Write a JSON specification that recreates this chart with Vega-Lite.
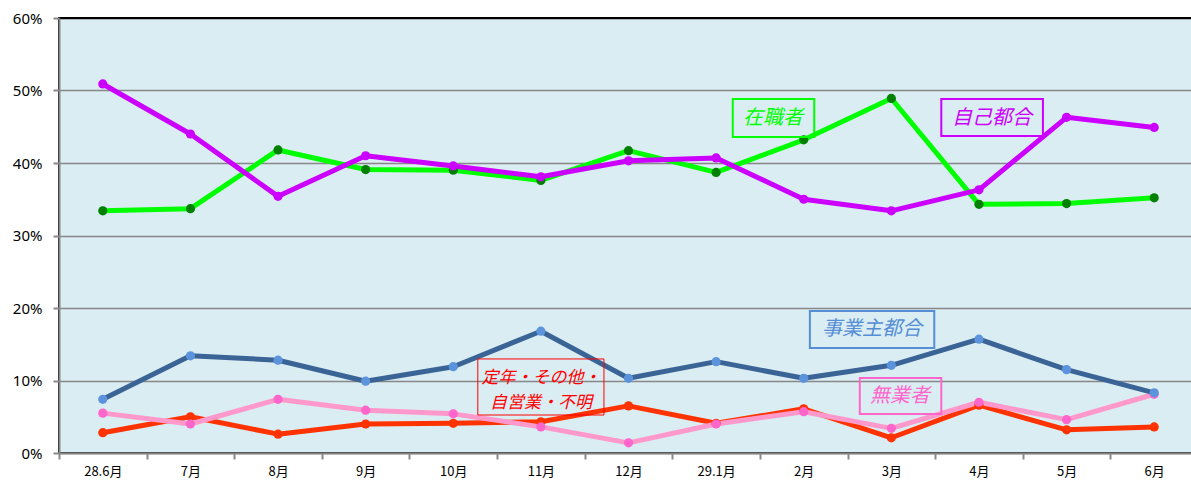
{
  "$schema": "https://vega.github.io/schema/vega-lite/v6.json",
  "width": 1139,
  "height": 435,
  "autosize": {"type": "none"},
  "padding": {"left": 59, "top": 18, "right": 0, "bottom": 28},
  "background": "#ffffff",
  "config": {
    "view": {"fill": "#DAEDF3", "stroke": "#000000", "strokeWidth": 2},
    "font": "Noto Sans CJK JP"
  },
  "datasets": {
    "rate": [
      {"i": 0, "month": "28.6月", "series": "定年・その他・自営業・不明", "value": 2.8},
      {"i": 1, "month": "7月", "series": "定年・その他・自営業・不明", "value": 5.0},
      {"i": 2, "month": "8月", "series": "定年・その他・自営業・不明", "value": 2.6},
      {"i": 3, "month": "9月", "series": "定年・その他・自営業・不明", "value": 4.0},
      {"i": 4, "month": "10月", "series": "定年・その他・自営業・不明", "value": 4.1},
      {"i": 5, "month": "11月", "series": "定年・その他・自営業・不明", "value": 4.3},
      {"i": 6, "month": "12月", "series": "定年・その他・自営業・不明", "value": 6.5},
      {"i": 7, "month": "29.1月", "series": "定年・その他・自営業・不明", "value": 4.1},
      {"i": 8, "month": "2月", "series": "定年・その他・自営業・不明", "value": 6.1},
      {"i": 9, "month": "3月", "series": "定年・その他・自営業・不明", "value": 2.1},
      {"i": 10, "month": "4月", "series": "定年・その他・自営業・不明", "value": 6.6},
      {"i": 11, "month": "5月", "series": "定年・その他・自営業・不明", "value": 3.2},
      {"i": 12, "month": "6月", "series": "定年・その他・自営業・不明", "value": 3.6},

      {"i": 0, "month": "28.6月", "series": "無業者", "value": 5.5},
      {"i": 1, "month": "7月", "series": "無業者", "value": 4.0},
      {"i": 2, "month": "8月", "series": "無業者", "value": 7.4},
      {"i": 3, "month": "9月", "series": "無業者", "value": 5.9},
      {"i": 4, "month": "10月", "series": "無業者", "value": 5.4},
      {"i": 5, "month": "11月", "series": "無業者", "value": 3.6},
      {"i": 6, "month": "12月", "series": "無業者", "value": 1.4},
      {"i": 7, "month": "29.1月", "series": "無業者", "value": 4.0},
      {"i": 8, "month": "2月", "series": "無業者", "value": 5.7},
      {"i": 9, "month": "3月", "series": "無業者", "value": 3.4},
      {"i": 10, "month": "4月", "series": "無業者", "value": 7.0},
      {"i": 11, "month": "5月", "series": "無業者", "value": 4.6},
      {"i": 12, "month": "6月", "series": "無業者", "value": 8.1},

      {"i": 0, "month": "28.6月", "series": "事業主都合", "value": 7.4},
      {"i": 1, "month": "7月", "series": "事業主都合", "value": 13.4},
      {"i": 2, "month": "8月", "series": "事業主都合", "value": 12.8},
      {"i": 3, "month": "9月", "series": "事業主都合", "value": 9.9},
      {"i": 4, "month": "10月", "series": "事業主都合", "value": 11.9},
      {"i": 5, "month": "11月", "series": "事業主都合", "value": 16.8},
      {"i": 6, "month": "12月", "series": "事業主都合", "value": 10.3},
      {"i": 7, "month": "29.1月", "series": "事業主都合", "value": 12.6},
      {"i": 8, "month": "2月", "series": "事業主都合", "value": 10.3},
      {"i": 9, "month": "3月", "series": "事業主都合", "value": 12.1},
      {"i": 10, "month": "4月", "series": "事業主都合", "value": 15.7},
      {"i": 11, "month": "5月", "series": "事業主都合", "value": 11.5},
      {"i": 12, "month": "6月", "series": "事業主都合", "value": 8.3},

      {"i": 0, "month": "28.6月", "series": "在職者", "value": 33.4},
      {"i": 1, "month": "7月", "series": "在職者", "value": 33.7},
      {"i": 2, "month": "8月", "series": "在職者", "value": 41.8},
      {"i": 3, "month": "9月", "series": "在職者", "value": 39.1},
      {"i": 4, "month": "10月", "series": "在職者", "value": 39.0},
      {"i": 5, "month": "11月", "series": "在職者", "value": 37.6},
      {"i": 6, "month": "12月", "series": "在職者", "value": 41.7},
      {"i": 7, "month": "29.1月", "series": "在職者", "value": 38.7},
      {"i": 8, "month": "2月", "series": "在職者", "value": 43.2},
      {"i": 9, "month": "3月", "series": "在職者", "value": 48.9},
      {"i": 10, "month": "4月", "series": "在職者", "value": 34.3},
      {"i": 11, "month": "5月", "series": "在職者", "value": 34.4},
      {"i": 12, "month": "6月", "series": "在職者", "value": 35.2},

      {"i": 0, "month": "28.6月", "series": "自己都合", "value": 50.9},
      {"i": 1, "month": "7月", "series": "自己都合", "value": 44.0},
      {"i": 2, "month": "8月", "series": "自己都合", "value": 35.4},
      {"i": 3, "month": "9月", "series": "自己都合", "value": 41.0},
      {"i": 4, "month": "10月", "series": "自己都合", "value": 39.6},
      {"i": 5, "month": "11月", "series": "自己都合", "value": 38.1},
      {"i": 6, "month": "12月", "series": "自己都合", "value": 40.3},
      {"i": 7, "month": "29.1月", "series": "自己都合", "value": 40.7},
      {"i": 8, "month": "2月", "series": "自己都合", "value": 35.0},
      {"i": 9, "month": "3月", "series": "自己都合", "value": 33.4},
      {"i": 10, "month": "4月", "series": "自己都合", "value": 36.3},
      {"i": 11, "month": "5月", "series": "自己都合", "value": 46.3},
      {"i": 12, "month": "6月", "series": "自己都合", "value": 44.9}
    ]
  },
  "layer": [
    {
      "data": {"name": "rate"},
      "mark": {"type": "line", "strokeWidth": 5, "strokeJoin": "round"},
      "encoding": {
        "x": {
          "field": "i", "type": "quantitative", "title": null,
          "scale": {"domain": [-0.5, 12.5], "nice": false, "zero": false},
          "axis": {
            "values": [-0.5, 0, 0.5, 1, 1.5, 2, 2.5, 3, 3.5, 4, 4.5, 5, 5.5, 6, 6.5, 7, 7.5, 8, 8.5, 9, 9.5, 10, 10.5, 11, 11.5, 12, 12.5],
            "labelExpr": "datum.value % 1 === 0 ? ['28.6月','7月','8月','9月','10月','11月','12月','29.1月','2月','3月','4月','5月','6月'][datum.value] : ''",
            "tickOpacity": {"condition": {"test": "datum.value % 1 !== 0", "value": 1}, "value": 0},
            "tickColor": "#888888", "tickSize": 6, "tickWidth": 2,
            "domainColor": "#888888", "domainWidth": 2,
            "grid": false,
            "labelFont": "Noto Sans CJK JP", "labelFontSize": 13, "labelColor": "#000000",
            "labelPadding": 6, "labelFlush": false, "labelOverlap": false, "title": null
          }
        },
        "y": {
          "field": "value", "type": "quantitative", "title": null,
          "scale": {"domain": [0, 60], "nice": false},
          "axis": {
            "values": [0, 10, 20, 30, 40, 50, 60],
            "labelExpr": "datum.value + '%'",
            "grid": true,
            "gridColor": {"condition": {"test": "datum.value === 60", "value": "#000000"}, "value": "#888888"},
            "gridWidth": 1.5,
            "tickColor": "#888888", "tickSize": 6, "tickWidth": 2,
            "domainColor": "#888888", "domainWidth": 2,
            "labelFont": "Noto Sans", "labelFontSize": 15, "labelColor": "#000000",
            "labelPadding": 11, "title": null
          }
        },
        "stroke": {
          "field": "series", "type": "nominal", "legend": null,
          "scale": {
            "domain": ["定年・その他・自営業・不明", "無業者", "事業主都合", "在職者", "自己都合"],
            "range": ["#FF3300", "#FF99CC", "#3B6496", "#00FF00", "#CC00FF"]
          }
        }
      }
    },
    {
      "data": {"name": "rate"},
      "mark": {"type": "point", "filled": true, "size": 85, "opacity": 1},
      "encoding": {
        "x": {"field": "i", "type": "quantitative", "title": null},
        "y": {"field": "value", "type": "quantitative", "title": null},
        "fill": {
          "field": "series", "type": "nominal", "legend": null,
          "scale": {
            "domain": ["定年・その他・自営業・不明", "無業者", "事業主都合", "在職者", "自己都合"],
            "range": ["#FF3300", "#FF66CC", "#5B94DC", "#008000", "#CC00FF"]
          }
        }
      }
    },
    {
      "data": {"values": [{}]},
      "mark": {"type": "rect", "filled": false, "stroke": "#00FF00", "strokeWidth": 2},
      "encoding": {
        "x": {"datum": 7.19, "title": null}, "x2": {"datum": 8.12},
        "y": {"datum": 48.83, "title": null}, "y2": {"datum": 43.59}
      }
    },
    {
      "data": {"values": [{}]},
      "mark": {"type": "text", "text": "在職者", "font": "Noto Sans CJK JP", "fontSize": 20, "fontStyle": "italic", "color": "#00FF00"},
      "encoding": {"x": {"datum": 7.65, "title": null}, "y": {"datum": 46.2, "title": null}}
    },
    {
      "data": {"values": [{}]},
      "mark": {"type": "rect", "filled": false, "stroke": "#CC00FF", "strokeWidth": 2},
      "encoding": {
        "x": {"datum": 9.57, "title": null}, "x2": {"datum": 10.73},
        "y": {"datum": 48.83, "title": null}, "y2": {"datum": 43.72}
      }
    },
    {
      "data": {"values": [{}]},
      "mark": {"type": "text", "text": "自己都合", "font": "Noto Sans CJK JP", "fontSize": 20, "fontStyle": "italic", "color": "#CC00FF"},
      "encoding": {"x": {"datum": 10.15, "title": null}, "y": {"datum": 46.2, "title": null}}
    },
    {
      "data": {"values": [{}]},
      "mark": {"type": "rect", "filled": false, "stroke": "#558ED5", "strokeWidth": 2},
      "encoding": {
        "x": {"datum": 8.07, "title": null}, "x2": {"datum": 9.49},
        "y": {"datum": 19.59, "title": null}, "y2": {"datum": 14.48}
      }
    },
    {
      "data": {"values": [{}]},
      "mark": {"type": "text", "text": "事業主都合", "font": "Noto Sans CJK JP", "fontSize": 20, "fontStyle": "italic", "color": "#558ED5"},
      "encoding": {"x": {"datum": 8.78, "title": null}, "y": {"datum": 17.1, "title": null}}
    },
    {
      "data": {"values": [{}]},
      "mark": {"type": "rect", "filled": false, "stroke": "#FF66CC", "strokeWidth": 2},
      "encoding": {
        "x": {"datum": 8.64, "title": null}, "x2": {"datum": 9.57},
        "y": {"datum": 10.34, "title": null}, "y2": {"datum": 5.38}
      }
    },
    {
      "data": {"values": [{}]},
      "mark": {"type": "text", "text": "無業者", "font": "Noto Sans CJK JP", "fontSize": 20, "fontStyle": "italic", "color": "#FF66CC"},
      "encoding": {"x": {"datum": 9.1, "title": null}, "y": {"datum": 7.86, "title": null}}
    },
    {
      "data": {"values": [{}]},
      "mark": {"type": "rect", "filled": false, "stroke": "#FF0000", "strokeWidth": 1},
      "encoding": {
        "x": {"datum": 4.28, "title": null}, "x2": {"datum": 5.72},
        "y": {"datum": 12.97, "title": null}, "y2": {"datum": 5.24}
      }
    },
    {
      "data": {"values": [{}]},
      "mark": {"type": "text", "text": ["定年・その他・", "自営業・不明"], "lineHeight": 25, "font": "Noto Sans CJK JP", "fontSize": 17, "fontStyle": "italic", "color": "#FF0000"},
      "encoding": {"x": {"datum": 5.0, "title": null}, "y": {"datum": 10.3, "title": null}}
    }
  ]
}
